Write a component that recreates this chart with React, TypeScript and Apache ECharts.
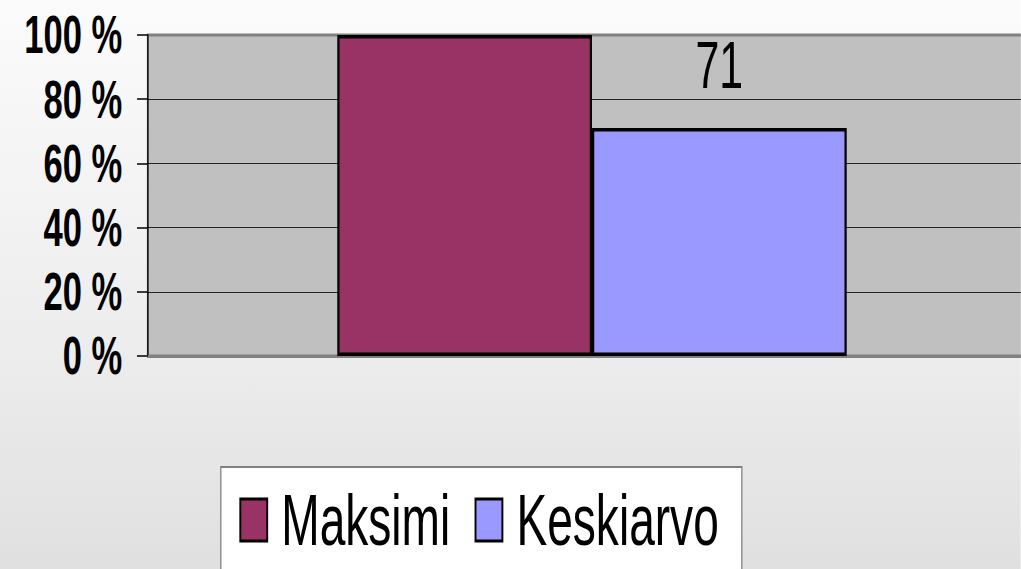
import React, { useEffect, useRef } from "react";
import * as echarts from "echarts";

const categories = [""];
const seriesNames = ["Maksimi", "Keskiarvo"];
const maksimiValues = [100];
const keskiarvoValues = [71];
const yTicks = { min: 0, max: 100, interval: 20 };

const SQUASH = 0.64;
const OUT_W = 1021;
const OUT_H = 569;
const IN_W = Math.round(OUT_W / SQUASH);

export default function App() {
  const ref = useRef<HTMLDivElement>(null);
  useEffect(() => {
    if (!ref.current) return;
    const chart = echarts.init(ref.current, undefined, { renderer: "svg", width: IN_W, height: OUT_H });
    const font = "'Liberation Sans', Arial, sans-serif";
    chart.setOption({
      animation: false,
      backgroundColor: {
        type: "linear", x: 0, y: 0, x2: 0, y2: 1,
        colorStops: [
          { offset: 0, color: "#fbfbfb" },
          { offset: 0.6, color: "#ededed" },
          { offset: 1, color: "#e0e0e0" },
        ],
      },
      textStyle: { fontFamily: font },
      grid: {
        left: 231, width: IN_W - 231 + 24, top: 35, height: 321,
        show: true, backgroundColor: "#c0c0c0", borderColor: "#808080", borderWidth: 3,
        containLabel: false,
        outerBoundsMode: "none",
      },
      legend: {
        data: seriesNames,
        left: 345, top: 467,
        orient: "horizontal",
        icon: "rect",
        backgroundColor: "#ffffff",
        borderColor: "#808080",
        borderWidth: 2,
        padding: [17, 36, 80, 29],
        itemWidth: 42, itemHeight: 42,
        itemGap: 38,
        itemStyle: { borderColor: "#000", borderWidth: 3 },
        textStyle: { fontSize: 72, color: "#000", fontFamily: font, padding: [0, 0, 0, 17] },
      },
      xAxis: {
        type: "category",
        data: categories,
        axisLine: { show: true, lineStyle: { color: "#808080", width: 3 } },
        axisTick: { show: false },
        axisLabel: { show: false },
        splitLine: { show: false },
      },
      yAxis: {
        type: "value",
        min: yTicks.min, max: yTicks.max, interval: yTicks.interval,
        axisLine: { show: true, lineStyle: { color: "#000", width: 2 } },
        axisTick: { show: true, length: 17, lineStyle: { color: "#000", width: 1.5 } },
        axisLabel: {
          formatter: "{value} %",
          fontSize: 54, fontWeight: "bold", color: "#000", margin: 40, fontFamily: font,
        },
        splitLine: {
          show: true,
          lineStyle: { color: ["#808080", "#000", "#000", "#000", "#000", "#808080"], width: 1 },
        },
      },
      series: [
        {
          name: seriesNames[0], type: "bar", data: maksimiValues,
          barWidth: 398, barGap: "0%",
          itemStyle: { color: "#993366", borderColor: "#000", borderWidth: 3.5 },
          label: { show: false },
        },
        {
          name: seriesNames[1], type: "bar", data: keskiarvoValues,
          barWidth: 398, barGap: "0%",
          itemStyle: { color: "#9999ff", borderColor: "#000", borderWidth: 3.5 },
          label: { show: true, position: "top", distance: 30, fontSize: 67, color: "#000", fontFamily: font },
        },
      ],
    });
    return () => chart.dispose();
  }, []);
  return (
    <div style={{ position: "absolute", left: 0, top: 0, width: OUT_W, height: OUT_H, overflow: "hidden" }}>
      <div
        ref={ref}
        style={{ width: IN_W, height: OUT_H, transform: `scaleX(${SQUASH})`, transformOrigin: "0 0" }}
      />
    </div>
  );
}
